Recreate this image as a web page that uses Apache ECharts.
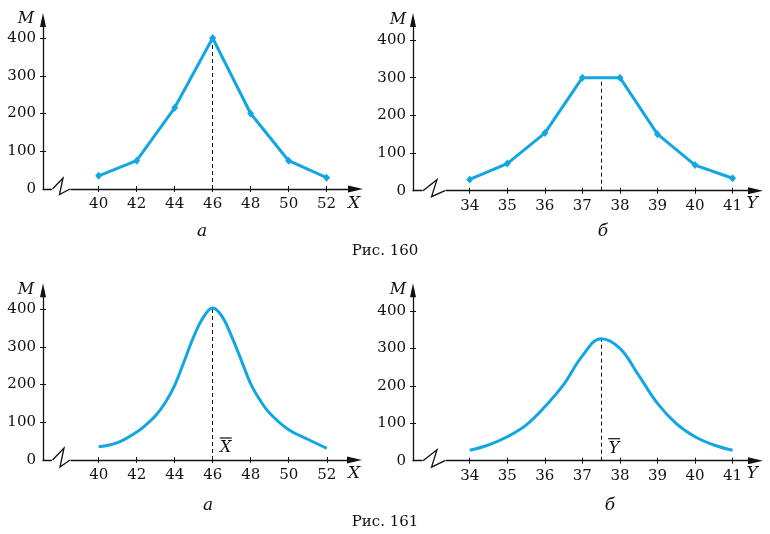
<!DOCTYPE html>
<html><head><meta charset="utf-8">
<script src="https://cdn.jsdelivr.net/npm/echarts@6/dist/echarts.min.js"></script>
<style>html,body{margin:0;padding:0;background:#fff}#c{width:770px;height:534px}</style>
</head><body><div id="c"></div>
<script>
// Рис. 160 а
const xTop1 = [40, 42, 44, 46, 48, 50, 52];
const mTop1 = [35, 75, 215, 400, 200, 75, 30];
// Рис. 160 б
const yTop2 = [34, 35, 36, 37, 38, 39, 40, 41];
const mTop2 = [30, 72, 153, 300, 300, 150, 68, 33];
// Рис. 161 а
const xBot1 = [40, 41, 42, 42.5, 43, 43.5, 44, 44.5, 45, 45.5, 46, 46.5, 47, 47.5, 48, 48.5, 49, 50, 51, 52];
const mBot1 = [35, 46, 74, 94, 118, 152, 198, 262, 327, 378, 403, 380, 327, 265, 202, 158, 124, 80, 55, 31];
// Рис. 161 б
const yBot2 = [34, 34.5, 35, 35.5, 36, 36.5, 37, 37.5, 38, 38.5, 39, 39.5, 40, 40.5, 41];
const mBot2 = [28, 42, 64, 95, 144, 203, 280, 326, 300, 228, 153, 99, 64, 42, 28];
// tick labels
const xTickLabels = [40, 42, 44, 46, 48, 50, 52];
const yTickLabels = [34, 35, 36, 37, 38, 39, 40, 41];
const mTickLabels = [0, 100, 200, 300, 400];
// means (dashed lines)
const meanTop1 = [46, 400], meanTop2 = [37.5, 300], meanBot1 = [46, 403], meanBot2 = [37.5, 326];

const BLUE = '#12a6e3';
const FONT = 'DejaVu Serif';
const panels = [
  {grid:{left:43, top:20, width:312.5, height:169}, xMin:37.07, xMax:53.52, yMax:447.7, ticks:xTickLabels, xs:xTop1, ys:mTop1, mean:meanTop1, smooth:false, fs:15},
  {grid:{left:413, top:20, width:342.5, height:170.7}, xMin:32.49, xMax:41.61, yMax:453, ticks:yTickLabels, xs:yTop2, ys:mTop2, mean:meanTop2, smooth:false, fs:15},
  {grid:{left:43, top:290.3, width:311.5, height:169.7}, xMin:37.07, xMax:53.46, yMax:450, ticks:xTickLabels, xs:xBot1, ys:mBot1, mean:meanBot1, smooth:0.4, fs:15},
  {grid:{left:413, top:290.3, width:342.5, height:170.4}, xMin:32.49, xMax:41.61, yMax:455.3, ticks:yTickLabels, xs:yBot2, ys:mBot2, mean:meanBot2, smooth:0.4, fs:15}
];

const grids = [], xAxes = [], yAxes = [], series = [];
panels.forEach((p, i) => {
  grids.push(Object.assign({containLabel:false}, p.grid));
  const axLine = (sym) => ({show:true, onZero:false, lineStyle:{color:'#111', width:1.3}, symbol:['none', sym ? 'triangle' : 'none'], symbolSize: sym});
  xAxes.push({type:'value', gridIndex:i, min:p.xMin, max:p.xMax, position:'bottom',
    axisLine: axLine([7,15]), splitLine:{show:false},
    axisTick:{show:true, length:3, inside:false, customValues:p.ticks, lineStyle:{color:'#111', width:1}},
    axisLabel:{show:true, margin:8, customValues:p.ticks, color:'#111', fontFamily:FONT, fontSize:p.fs}});
  xAxes.push({type:'value', gridIndex:i, min:p.xMin, max:p.xMax, position:'bottom',
    axisLine:{show:false}, splitLine:{show:false}, axisLabel:{show:false},
    axisTick:{show:true, length:3, inside:true, customValues:p.ticks, lineStyle:{color:'#111', width:1}}});
  yAxes.push({type:'value', gridIndex:i, min:0, max:p.yMax, position:'left',
    axisLine: axLine([6,14]), splitLine:{show:false},
    axisTick:{show:true, length:3, inside:false, customValues:mTickLabels.slice(1), lineStyle:{color:'#111', width:1}},
    axisLabel:{show:true, margin:7, customValues:mTickLabels, color:'#111', fontFamily:FONT, fontSize:p.fs}});
  yAxes.push({type:'value', gridIndex:i, min:0, max:p.yMax, position:'left',
    axisLine:{show:false}, splitLine:{show:false}, axisLabel:{show:false},
    axisTick:{show:true, length:3, inside:true, customValues:mTickLabels.slice(1), lineStyle:{color:'#111', width:1}}});
  series.push({type:'line', xAxisIndex:2*i, yAxisIndex:2*i,
    data: p.xs.map((x, k) => [x, p.ys[k]]),
    smooth: p.smooth, showSymbol: !p.smooth, symbol:'diamond', symbolSize:[7,8],
    itemStyle:{color:BLUE}, lineStyle:{color:BLUE, width:3}, z:3,
    markLine:{silent:true, symbol:'none', label:{show:false}, z:2,
      lineStyle:{color:'#111', type:[4,3], width:1},
      data:[[{coord:[p.mean[0], 0]}, {coord:[p.mean[0], p.mean[1]]}]]}});
});

const chart = echarts.init(document.getElementById('c'), null, {renderer:'canvas'});
chart.setOption({animation:false, backgroundColor:'#fff', grid:grids, xAxis:xAxes, yAxis:yAxes, series:series});

// decorations: axis breaks, axis names, captions
const g = [];
const txt = (x, y, s, size, italic) => ({type:'text', x:x, y:y, z:10,
  style:{text:s, fill:'#111', font:(italic ? 'italic ' : '') + size + 'px "' + FONT + '"', align:'center', verticalAlign:'middle'}});
const brk = [[9.5,0,20,-11,16.5,5.5,27,0],[10,0,24,-11,18.5,6,32,0],[9.5,0,21,-12,17,7,27,0],[10,0,24,-11,18.5,6.5,32,0]];
panels.forEach((p, i) => {
  const o = chart.convertToPixel({xAxisIndex:2*i, yAxisIndex:2*i}, [p.xMin, 0]);
  const b = brk[i];
  g.push({type:'rect', z:9, shape:{x:o[0]+b[0]-0.5, y:o[1]-3, width:b[6]-b[0]+1, height:6}, style:{fill:'#fff'}});
  g.push({type:'polyline', z:10, shape:{points:[[o[0]+b[0],o[1]],[o[0]+b[2],o[1]+b[3]],[o[0]+b[4],o[1]+b[5]],[o[0]+b[6],o[1]]]},
    style:{stroke:'#111', lineWidth:1.3, fill:null}});
});
// axis names
g.push(txt(26, 19, 'M', 16, true), txt(398, 20, 'M', 16, true), txt(26, 290, 'M', 16, true), txt(398, 290, 'M', 16, true));
g.push(txt(354, 204, 'X', 17, true), txt(752, 204, 'Y', 17, true), txt(354, 474, 'X', 17, true), txt(752, 474, 'Y', 17, true));
// captions
g.push(txt(202, 232, 'а', 17, true), txt(603, 232, 'б', 17, true), txt(385, 251, 'Рис. 160', 15, false));
g.push(txt(208, 506, 'а', 17, true), txt(610, 506, 'б', 17, true), txt(385, 522, 'Рис. 161', 15, false));
// mean labels with overline
const m1 = chart.convertToPixel({xAxisIndex:4, yAxisIndex:4}, [meanBot1[0], 0]);
const m2 = chart.convertToPixel({xAxisIndex:6, yAxisIndex:6}, [meanBot2[0], 0]);
[[m1, 'X'], [m2, 'Y']].forEach(([m, s]) => {
  g.push(txt(m[0] + 13, m[1] - 12, s, 16, true));
  g.push({type:'line', z:10, shape:{x1:m[0]+7, y1:m[1]-22, x2:m[0]+19, y2:m[1]-22}, style:{stroke:'#111', lineWidth:1.2}});
});
chart.setOption({graphic:g});
</script></body></html>
